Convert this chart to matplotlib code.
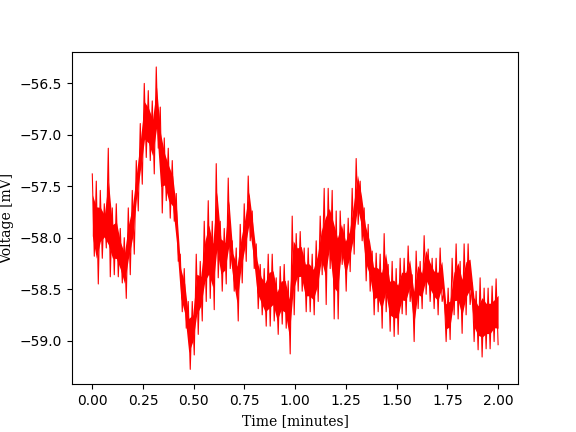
import numpy as np
import matplotlib
matplotlib.use('Agg')
import matplotlib.pyplot as plt

v_high = [-57.38, -57.45, -57.54, -57.67, -57.13, -57.71, -57.67, -57.91, -58.00, -57.71,
          -57.54, -57.25, -56.89, -56.50, -56.57, -56.67, -56.34, -56.73, -57.03, -57.13,
          -57.25, -57.57, -58.16, -58.30, -58.62, -58.62, -58.16, -58.23, -57.84, -57.64,
          -57.84, -57.28, -57.84, -57.91, -57.42, -58.03, -58.10, -57.87, -57.67, -57.40,
          -57.74, -58.06, -58.26, -58.30, -58.16, -58.16, -58.39, -58.28, -58.26, -58.42,
          -57.79, -57.96, -57.94, -58.10, -58.10, -58.16, -58.03, -57.79, -57.52, -57.52,
          -57.54, -57.74, -57.74, -57.87, -57.81, -57.52, -57.23, -57.45, -57.71, -57.87,
          -58.13, -58.15, -58.16, -57.96, -58.26, -58.23, -58.30, -58.20, -58.20, -58.08,
          -58.36, -58.13, -58.23, -57.98, -58.11, -58.20, -58.20, -58.10, -58.52, -58.49,
          -58.20, -58.06, -58.23, -58.06, -58.06, -58.44, -58.52, -58.39, -58.49, -58.49,
          -58.47, -58.40]
v_low = [-58.18, -58.45, -58.20, -58.10, -58.38, -58.36, -58.38, -58.44, -58.59, -58.36,
         -58.16, -57.74, -57.48, -57.22, -57.25, -57.38, -57.13, -57.76, -57.64, -57.81,
         -57.84, -58.23, -58.72, -58.88, -59.28, -59.14, -58.94, -58.81, -58.62, -58.59,
         -58.70, -58.39, -58.52, -58.45, -58.30, -58.52, -58.81, -58.44, -58.23, -58.03,
         -58.30, -58.69, -58.75, -58.86, -58.86, -58.81, -58.94, -58.84, -58.88, -59.13,
         -58.75, -58.52, -58.52, -58.72, -58.72, -58.75, -58.62, -58.36, -58.65, -58.30,
         -58.79, -58.79, -58.26, -58.52, -58.33, -58.16, -57.87, -58.03, -58.42, -58.52,
         -58.75, -58.72, -58.88, -58.72, -58.91, -58.96, -58.94, -58.74, -58.75, -58.62,
         -59.01, -58.69, -58.69, -58.55, -58.62, -58.69, -58.75, -58.62, -59.01, -58.99,
         -58.75, -58.79, -58.93, -58.75, -58.65, -59.01, -59.09, -59.16, -59.08, -59.08,
         -59.01, -59.04]
t_start, t_end = 0.0, 2.0  # minutes

hi = np.array(v_high)
lo = np.array(v_low)
trace = np.column_stack([hi, lo]).ravel()
t = np.linspace(t_start, t_end, len(trace))
t_win = np.linspace(t_start, t_end, len(hi))

fig = plt.figure(figsize=(5.76, 4.32), dpi=100)
ax = fig.gca()
# dense core of the trace, spikes drawn by the zigzag line
span = hi - lo
ax.fill_between(t_win, lo + 0.25 * span, hi - 0.25 * span, color='red', linewidth=0)
ax.plot(t, trace, color='red', linewidth=0.8)
ax.set_xlabel('Time [minutes]', family='DejaVu Serif')
ax.set_ylabel('Voltage [mV]', family='DejaVu Serif')
fig.savefig('out.png', dpi=100)
